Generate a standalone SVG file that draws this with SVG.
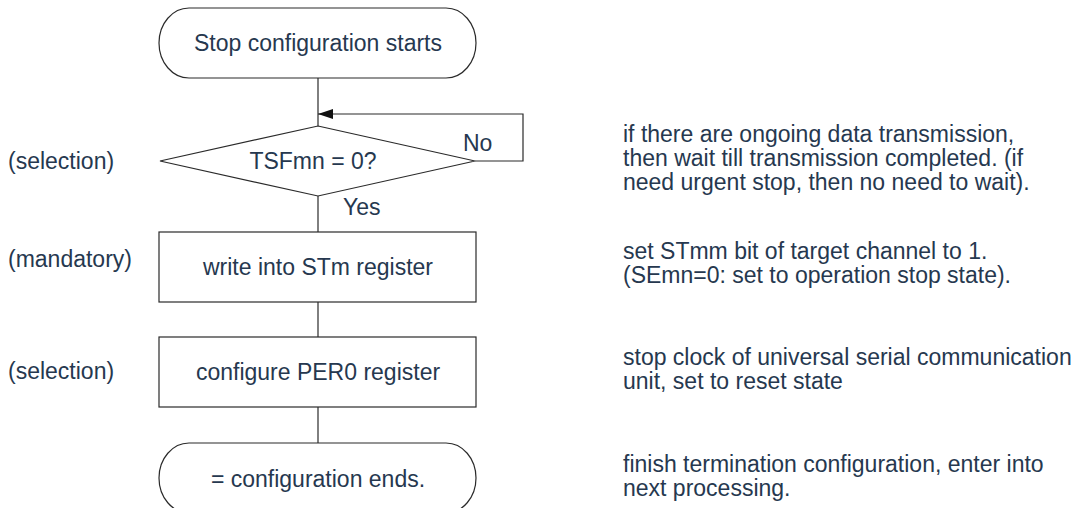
<svg xmlns="http://www.w3.org/2000/svg" width="1080" height="508" viewBox="0 0 1080 508">
<style>
.shape{fill:#fff;stroke:#2a2a2a;stroke-width:1.2}
.line{fill:none;stroke:#2a2a2a;stroke-width:1.2}
text{font-family:"Liberation Sans",Arial,sans-serif;font-size:23px;fill:#26384f}
.c{text-anchor:middle}
</style>
<defs>
<marker id="arr" markerUnits="userSpaceOnUse" markerWidth="16" markerHeight="12" refX="15" refY="6" orient="auto">
<polygon points="0,1 15,6 0,11" fill="#111"/>
</marker>
</defs>
<rect width="1080" height="508" fill="#fff"/>
<g id="connectors">
<line class="line" x1="318" y1="78" x2="318" y2="126"/>
<polyline class="line" points="475,161 523,161 523,114 318,114" marker-end="url(#arr)"/>
<line class="line" x1="318" y1="196" x2="318" y2="232"/>
<line class="line" x1="318" y1="302" x2="318" y2="337"/>
<line class="line" x1="318" y1="407" x2="318" y2="443"/>
<text x="463" y="151">No</text>
<text x="343" y="215">Yes</text>
</g>
<g id="start">
<path class="shape" d="M189,8 H446 A30,35 0 0 1 446,78 H189 A30,35 0 0 1 189,8 Z"/>
<text class="c" x="318" y="51">Stop configuration starts</text>
</g>
<g id="decision">
<polygon class="shape" points="318,126 475,161 318,196 160,161"/>
<text class="c" x="313" y="169">TSFmn = 0?</text>
</g>
<g id="write-stm">
<rect class="shape" x="159" y="232" width="317" height="70"/>
<text class="c" x="318" y="275">write into STm register</text>
</g>
<g id="config-per0">
<rect class="shape" x="159" y="337" width="317" height="70"/>
<text class="c" x="318" y="380">configure PER0 register</text>
</g>
<g id="end">
<path class="shape" d="M189,443 H446 A30,35 0 0 1 446,513 H189 A30,35 0 0 1 189,443 Z"/>
<text class="c" x="318" y="487">= configuration ends.</text>
</g>
<g id="labels">
<text x="8" y="169">(selection)</text>
<text x="8" y="267">(mandatory)</text>
<text x="8" y="379">(selection)</text>
</g>
<g id="notes">
<text x="623" y="142">if there are ongoing data transmission,</text>
<text x="623" y="166">then wait till transmission completed. (if</text>
<text x="623" y="190">need urgent stop, then no need to wait).</text>
<text x="623" y="259">set STmm bit of target channel to 1.</text>
<text x="623" y="283">(SEmn=0: set to operation stop state).</text>
<text x="623" y="365">stop clock of universal serial communication</text>
<text x="623" y="389">unit, set to reset state</text>
<text x="623" y="472">finish termination configuration, enter into</text>
<text x="623" y="496">next processing.</text>
</g>
</svg>
